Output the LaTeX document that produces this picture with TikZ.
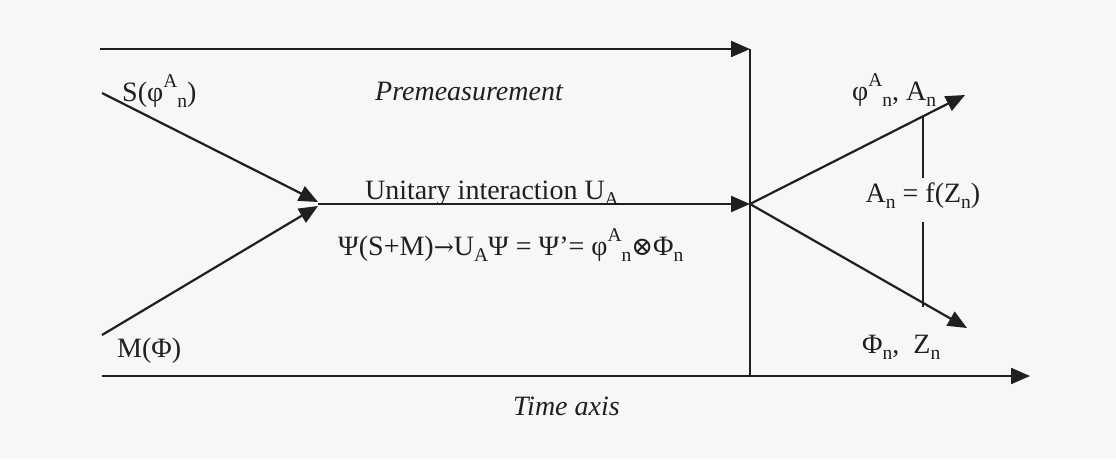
\documentclass[tikz,border=0pt]{standalone}
\usepackage{fontspec}
\setmainfont{Liberation Serif}
\newfontfamily\dv{DejaVu Serif}
\usetikzlibrary{arrows.meta}
\newcommand{\sbs}[1]{\raisebox{-0.22em}{\fontsize{19.5}{19.5}\selectfont #1}}
\newcommand{\sps}[1]{\raisebox{0.5em}{\fontsize{19.5}{19.5}\selectfont #1}}
\tikzset{
  ln/.style={draw=black!88, line width=2.2pt},
  arr/.style={ln, -{Triangle[length=19pt,width=16pt]}},
  lbl/.style={inner sep=0pt, anchor=base west, text=black!88, font=\fontsize{28}{31}\selectfont},
}
\begin{document}
\begin{tikzpicture}[x=1pt,y=-1pt]
\useasboundingbox[fill=black!3] (0,0) rectangle (1116,459);
% coordinates
\coordinate (T0) at (100,49);
\coordinate (T1) at (750,49);
\coordinate (B0) at (102,376);
\coordinate (B1) at (750,376);
\coordinate (B2) at (1030,376);
\coordinate (S0) at (102,93);
\coordinate (M0) at (102,335);
\coordinate (J1) at (318,204);
\coordinate (J1a) at (318,202);
\coordinate (J1b) at (318,206);
\coordinate (J2) at (750,204);
\coordinate (U) at (965,95);
\coordinate (D) at (967,328);
\coordinate (fa) at (923,116);
\coordinate (fb) at (923,307);
% labels
\node[lbl] (slab) at (122,101) {S(φ\sps{A}\sbs{n})};
\node[lbl] (pre) at (375,100) {\itshape Premeasurement};
\node[lbl] (uni) at (365,199) {Unitary interaction U\sbs{A}};
\node[lbl] (eq) at (338,255) {Ψ(S+M){\dv\fontsize{24}{24}\selectfont →}U\sbs{A}Ψ = Ψ’= φ\sps{A}\sbs{n}{\dv\fontsize{26}{26}\selectfont ⊗}Φ\sbs{n}};
\node[lbl] (mlab) at (117,357) {M(Φ)};
\node[lbl] (time) at (513,415) {\itshape Time axis};
\node[lbl] (up) at (852,100) {φ\sps{A}\sbs{n}, A\sbs{n}};
\node[lbl] (dn) at (862,353) {Φ\sbs{n},\ \ Z\sbs{n}};
\node[lbl, anchor=base, text height=24pt, text depth=20pt] (flab) at (923,202) {A\sbs{n} = f(Z\sbs{n})};
% connectors
\draw[arr] (T0) -- (T1);
\draw[ln] (T1) -- (B1);
\draw[arr] (B0) -- (B2);
\draw[arr] (S0) -- (J1a);
\draw[arr] (M0) -- (J1b);
\draw[arr] (J1) -- (J2);
\draw[arr] (J2) -- (U);
\draw[arr] (J2) -- (D);
\draw[ln, line width=1.8pt] (fa) -- (flab.north);
\draw[ln, line width=1.8pt] (flab.south) -- (fb);
\end{tikzpicture}
\end{document}
